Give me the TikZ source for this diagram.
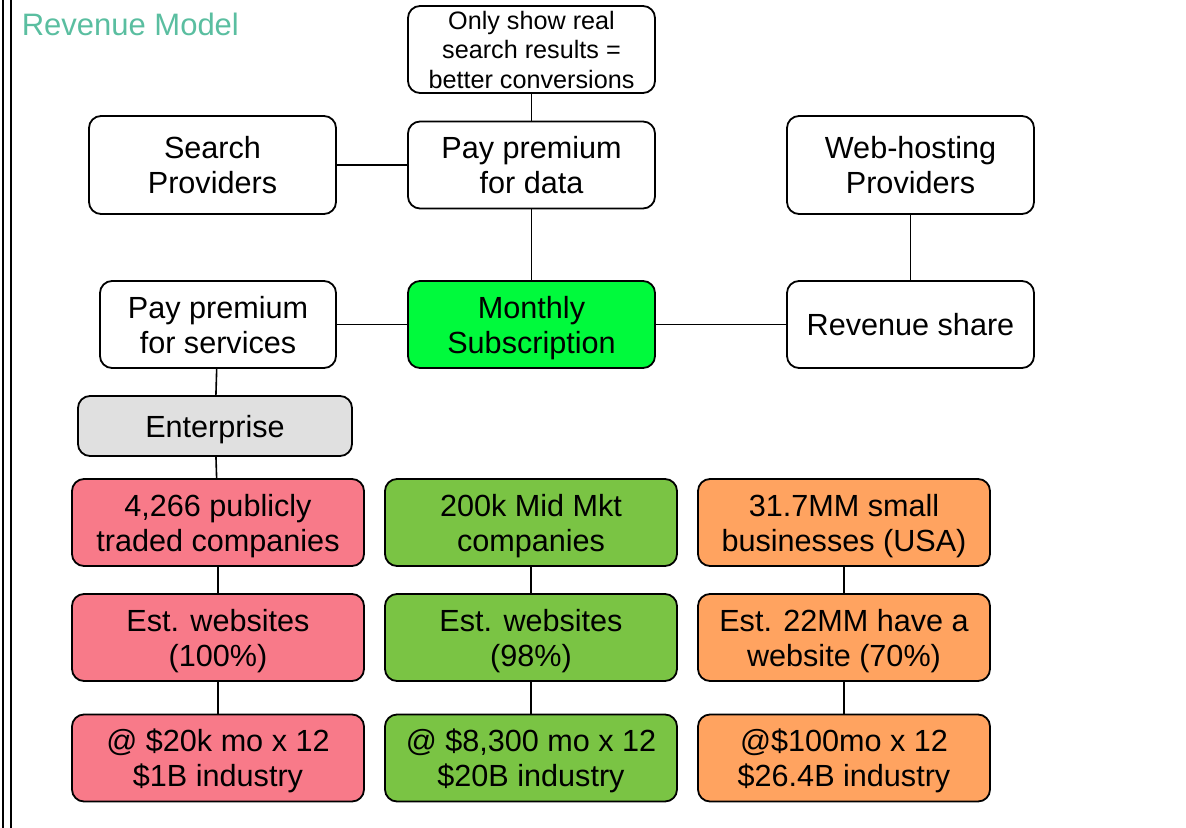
\documentclass[tikz,border=0pt]{standalone}
\usepackage{fontspec}
\setmainfont{Liberation Sans}
\usetikzlibrary{positioning}
\definecolor{titleteal}{RGB}{90,190,160}
\definecolor{subgreen}{RGB}{0,250,60}
\definecolor{entgray}{RGB}{224,224,224}
\definecolor{pubred}{RGB}{248,122,137}
\definecolor{midgreen}{RGB}{122,196,68}
\definecolor{smallorange}{RGB}{255,163,96}

\begin{document}
\begin{tikzpicture}[x=0.5pt, y=-0.5pt, thick, box/.style = {draw,
                        rounded corners=6pt, line width=0.9pt, align=center,
                        inner sep=2pt, minimum width=123.5pt, minimum height=43.5pt,
                        text depth=-1.5pt, font=\fontsize{15.3}{17.5}\selectfont},
                    row/.style = {box, minimum width=146pt}]
        \useasboundingbox (0,0) rectangle (1186,828);
        \draw[line width=1pt] (3,0) -- (3,828);
        \draw[line width=1pt] (11,0) -- (11,828);
        \node[anchor=west, inner sep=0pt, text=titleteal,
              font=\fontsize{15.5}{18}\selectfont] (title) at (21,24.5) {Revenue Model};

        \node[box, text depth=0pt, font=\fontsize{12.6}{14.75}\selectfont] (claim) at (531.5,49.5)
            {Only show real\\search results =\\better conversions};
        \node[box] (data) at (531.5,165) {Pay premium\\for data};
        \node[box, minimum height=49pt] (search) at (212.5,165) {Search\\Providers};
        \node[box, minimum height=49pt] (hosting) at (910.5,165) {Web-hosting\\Providers};

        \node[box, fill=subgreen] (sub) at (531.5,324.5) {Monthly\\Subscription};
        \node[box] (share) at (910.5,324.5) {Revenue share};
        \node[box, minimum width=118pt] (services) at (218,324.5) {Pay premium\\for services};
        \node[box, fill=entgray, minimum width=137pt, minimum height=30pt] (ent) at (215,426) {Enterprise};

        \node[row, fill=pubred] (pub) at (218,522.5) {4,266 publicly\\traded companies};
        \node[row, fill=pubred] (pubweb) at (218,637.5) {Est. websites\\(100\%)};
        \node[row, fill=pubred] (pubrev) at (218,758) {@ \$20k mo x 12\\\$1B industry};

        \node[row, fill=midgreen] (mid) at (531,522.5) {200k Mid Mkt\\companies};
        \node[row, fill=midgreen] (midweb) at (531,637.5) {Est. websites\\(98\%)};
        \node[row, fill=midgreen] (midrev) at (531,758) {@ \$8,300 mo x 12\\\$20B industry};

        \node[row, fill=smallorange] (small) at (844,522.5) {31.7MM small\\businesses (USA)};
        \node[row, fill=smallorange] (smallweb) at (844,637.5) {Est. 22MM have a\\website (70\%)};
        \node[row, fill=smallorange] (smallrev) at (844,758) {@\$100mo x 12\\\$26.4B industry};

        \draw (claim) -- (data);
        \draw (search) -- (data);
        \draw (data) -- (sub);
        \draw (hosting) -- (share);
        \draw (sub) -- (share);
        \draw (sub) -- (services);
        \draw (services) -- (ent);
        \draw (ent) -- (pub);
        \draw (pub) -- (pubweb);
        \draw (pubweb) -- (pubrev);
        \draw (mid) -- (midweb);
        \draw (midweb) -- (midrev);
        \draw (small) -- (smallweb);
        \draw (smallweb) -- (smallrev);
    \end{tikzpicture}
\end{document}
